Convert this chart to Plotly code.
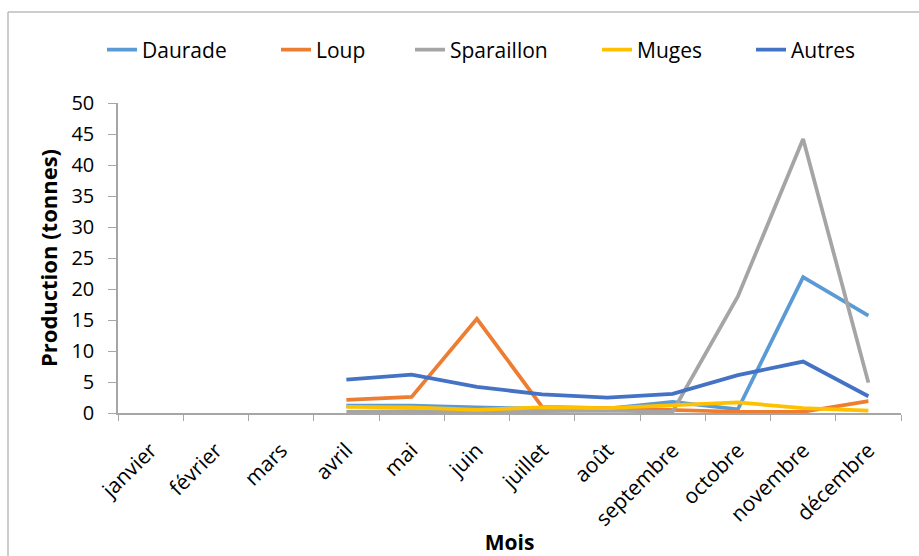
import plotly.graph_objects as go

# Monthly production by species (tonnes); no landings recorded January-March
mois = ["janvier", "février", "mars", "avril", "mai", "juin", "juillet",
        "août", "septembre", "octobre", "novembre", "décembre"]

daurade = [None, None, None, 1.2, 1.2, 0.9, 0.7, 0.7, 1.8, 0.6, 21.9, 15.7]
loup = [None, None, None, 2.1, 2.6, 15.2, 1.0, 0.8, 0.5, 0.2, 0.2, 1.9]
sparaillon = [None, None, None, 0.2, 0.3, 0.2, 0.3, 0.4, 0.2, 18.8, 44.2, 4.9]
muges = [None, None, None, 1.0, 0.9, 0.5, 0.9, 0.8, 1.2, 1.7, 0.8, 0.4]
autres = [None, None, None, 5.4, 6.2, 4.2, 3.0, 2.5, 3.1, 6.1, 8.3, 2.7]

series = [
    ("Daurade", daurade, "#5B9BD5"),
    ("Loup", loup, "#ED7D31"),
    ("Sparaillon", sparaillon, "#A5A5A5"),
    ("Muges", muges, "#FFC000"),
    ("Autres", autres, "#4472C4"),
]

# Left edge (px) of each legend entry's label across the top row
legend_text_x = [143, 317, 451, 638, 792]

W, H = 919, 556
L, R, T, B = 118, 18, 103, 143
pw, ph = W - L - R, H - T - B

def px_x(x):
    return (x - L) / pw

def px_y(y):
    return (H - B - y) / ph

font_main = "Open Sans, Noto Sans, sans-serif"
axis_col = "#A6A6A6"

fig = go.Figure()
legends = {}
for i, ((name, vals, col), tx) in enumerate(zip(series, legend_text_x)):
    key = "legend" if i == 0 else f"legend{i + 1}"
    fig.add_trace(go.Scatter(
        x=mois, y=vals, name=name, mode="lines",
        line=dict(color=col, width=3.75),
        legend=key,
    ))
    legends[key] = dict(
        orientation="h", x=px_x(tx - 41), xanchor="left",
        y=px_y(50), yanchor="middle",
        font=dict(size=21, color="#000000"),
        bgcolor="rgba(0,0,0,0)", borderwidth=0,
    )

# Outer chart frame (top and left edges visible)
frame = dict(type="line", xref="paper", yref="paper",
             line=dict(color="#BDBDBD", width=1.5))
fig.add_shape(**frame, x0=px_x(8), x1=px_x(W + 5), y0=px_y(12), y1=px_y(12))
fig.add_shape(**frame, x0=px_x(8), x1=px_x(8), y0=px_y(12), y1=px_y(H + 5))

fig.update_layout(
    width=W, height=H,
    margin=dict(l=L, r=R, t=T, b=B),
    paper_bgcolor="white", plot_bgcolor="white",
    font=dict(family=font_main, color="#000000"),
    showlegend=True,
    **legends,
    xaxis=dict(
        type="category", range=[-0.5, 11.5], automargin=False,
        tickson="boundaries", ticks="outside", ticklen=6,
        tickcolor=axis_col, showline=True, linecolor=axis_col, linewidth=1.5,
        showgrid=False, zeroline=False, tickangle=-45,
        tickfont=dict(size=21, color="#000000"),
        ticklabelstandoff=15,
        title=dict(text="<b>Mois</b>", font=dict(size=21), standoff=22),
    ),
    yaxis=dict(
        range=[0, 50], dtick=5, ticks="outside", ticklen=8, automargin=False,
        tickcolor=axis_col, showline=True, linecolor=axis_col, linewidth=1.5,
        showgrid=False, zeroline=False,
        tickfont=dict(size=20, color="#000000"),
        ticklabelstandoff=10,
        title=dict(text="<b>Production (tonnes)</b>", font=dict(size=22), standoff=8),
    ),
)

fig.write_html("out.html")
